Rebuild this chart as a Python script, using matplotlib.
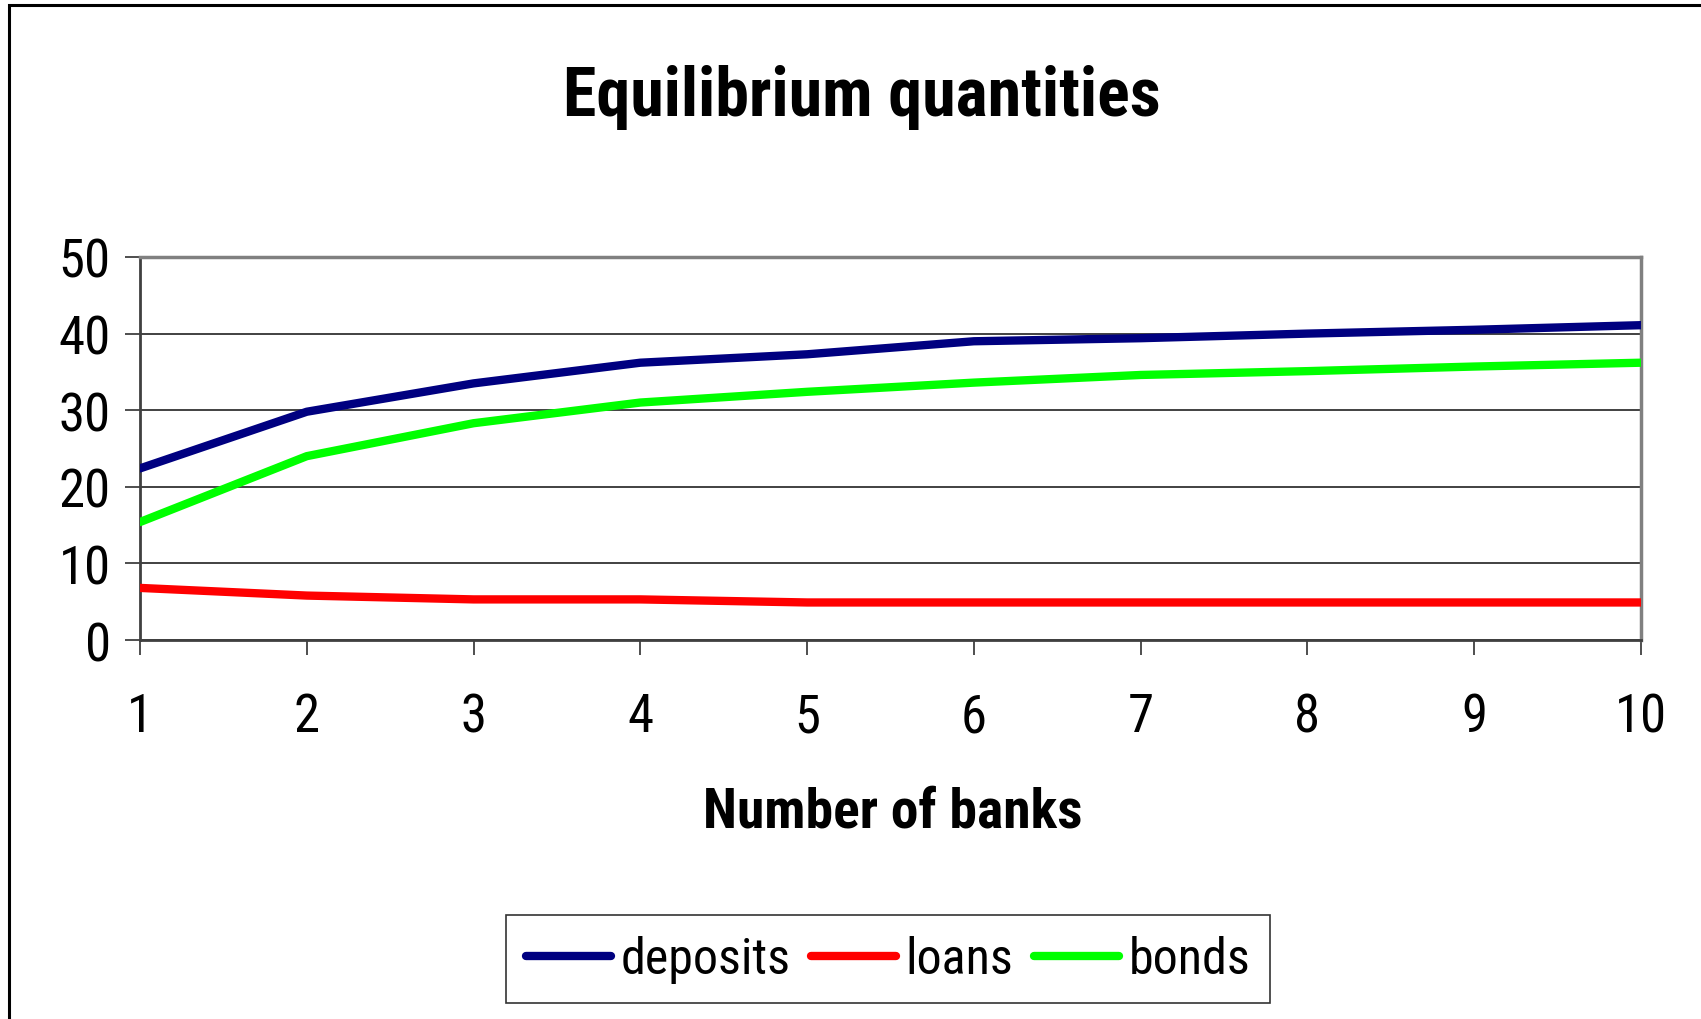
import matplotlib
matplotlib.use("Agg")
import matplotlib.pyplot as plt
from matplotlib.patches import Rectangle

plt.rcParams['font.family'] = ['Roboto Condensed', 'DejaVu Sans']

banks = [1, 2, 3, 4, 5, 6, 7, 8, 9, 10]
deposits = [22.4, 29.8, 33.5, 36.2, 37.3, 39.0, 39.4, 40.0, 40.5, 41.1]
loans = [6.8, 5.8, 5.3, 5.3, 4.9, 4.9, 4.9, 4.9, 4.9, 4.9]
bonds = [15.4, 24.0, 28.3, 31.0, 32.4, 33.6, 34.6, 35.1, 35.7, 36.2]
yticks = [0, 10, 20, 30, 40, 50]

W, H = 1701, 1020
fig = plt.figure(figsize=(W/100, H/100), dpi=100)
fig.patches.append(Rectangle((9/W, -0.5), 2, 1.5 - 6/H, transform=fig.transFigure,
                             fill=False, edgecolor='black', linewidth=2.2, zorder=0))

L, R, T, B = 140, 1641, 258, 641
ax = fig.add_axes([L/W, 1 - B/H, (R-L)/W, (B-T)/H])
ax.plot(banks, deposits, color='#000080', lw=6, label='deposits', solid_capstyle='round', zorder=3)
ax.plot(banks, loans, color='#FF0000', lw=6, label='loans', solid_capstyle='round', zorder=3)
ax.plot(banks, bonds, color='#00FF00', lw=6, label='bonds', solid_capstyle='round', zorder=3)

ax.set_xlim(1, 10)
ax.set_ylim(0, 50)
ax.set_xticks(banks)
ax.set_yticks(yticks)
ax.yaxis.grid(True, color='#333333', lw=1.3)
ax.set_axisbelow(True)
for s in ['top', 'right']:
    ax.spines[s].set_color('#808080')
    ax.spines[s].set_linewidth(2.5)
for s in ['left', 'bottom']:
    ax.spines[s].set_color('#404040')
    ax.spines[s].set_linewidth(2)
ax.tick_params(axis='both', direction='out', length=11, width=1.3, color='#404040', labelsize=38)
ax.tick_params(axis='x', pad=26)
ax.tick_params(axis='y', pad=10)

fig.text(862/W, 1 - 98/H, 'Equilibrium quantities', ha='center', va='center',
         fontsize=49, fontweight='bold')
fig.text(893/W, 1 - 813/H, 'Number of banks', ha='center', va='center',
         fontsize=40, fontweight='bold')

leg = fig.legend(loc='center', bbox_to_anchor=(888/W, 1 - 960/H), ncol=3, fontsize=36,
                 frameon=True, fancybox=False, edgecolor='black', handlelength=1.7,
                 handletextpad=0.2, columnspacing=0.4, borderpad=0.4)
leg.get_frame().set_linewidth(1.2)

fig.savefig('out.png', dpi=100)
